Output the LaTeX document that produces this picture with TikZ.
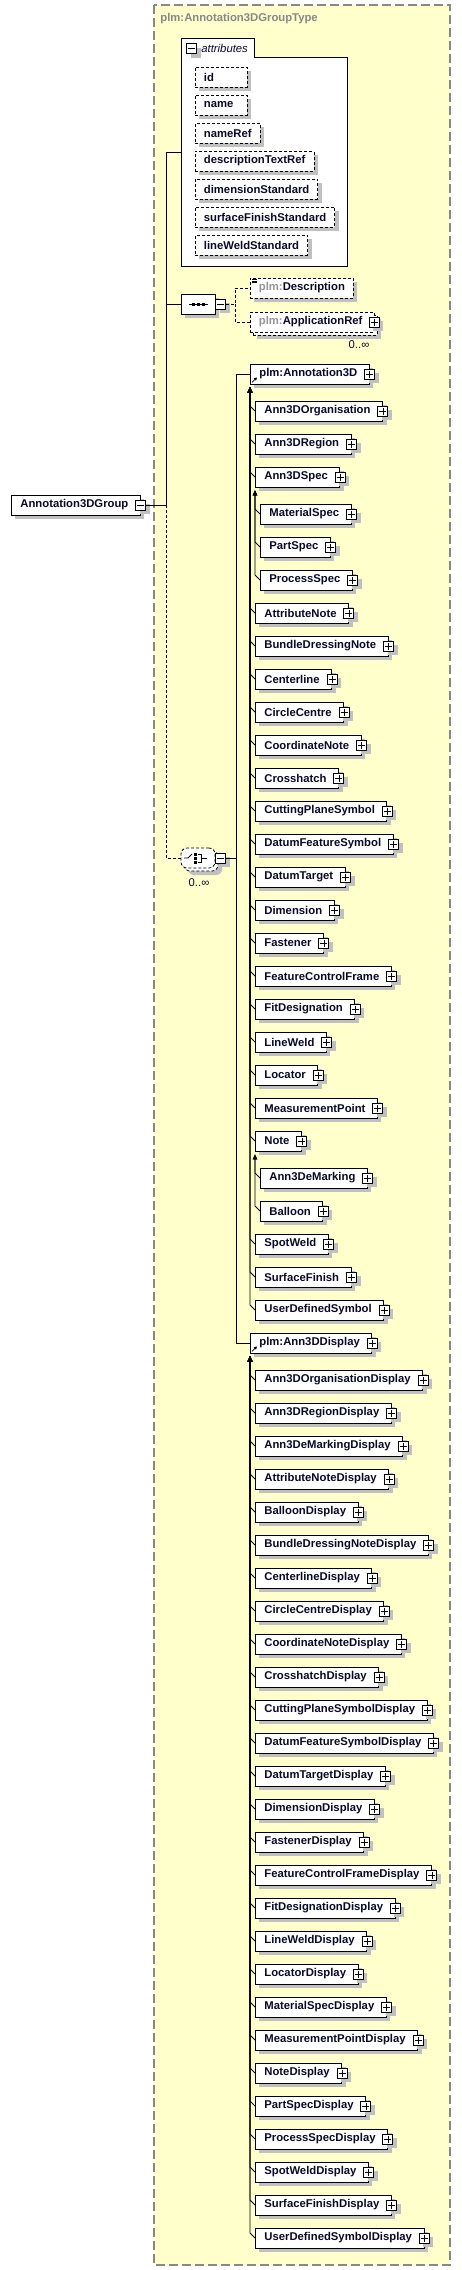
\documentclass[tikz,border=0pt]{standalone}
\usepackage{fontspec}
\setmainfont{Liberation Sans}
\usetikzlibrary{trees,shadows,shapes.misc,arrows.meta}

\definecolor{schemabg}{RGB}{255,255,204}
\definecolor{framegray}{RGB}{136,136,136}
\definecolor{prefixgray}{RGB}{150,150,150}
\definecolor{shade}{RGB}{192,192,192}
\definecolor{ink}{RGB}{10,10,40}

\newcommand{\boxfont}{\fontsize{11.3}{13}\selectfont}

\tikzstyle{boxshadow}=[drop shadow={shadow xshift=4pt,shadow yshift=-4pt,fill=shade,draw=none,opacity=1}]
\tikzstyle{stacked}=[drop shadow={shadow xshift=7pt,shadow yshift=-7pt,fill=shade,draw=none,opacity=1},
  copy shadow={shadow xshift=3pt,shadow yshift=-3pt,draw=black,fill=white,dash pattern=on 3pt off 2pt}]
\tikzstyle{optline}=[dash pattern=on 3pt off 2pt]
\tikzstyle{pbox}=[draw=black,line width=1pt,fill=white,minimum size=10pt,inner sep=0pt,boxshadow,
  path picture={\draw[line width=0.8pt]
    ([xshift=-3.5pt]path picture bounding box.center) -- ([xshift=3.5pt]path picture bounding box.center)
    ([yshift=-3.5pt]path picture bounding box.center) -- ([yshift=3.5pt]path picture bounding box.center);}]
\tikzstyle{mbox}=[draw=black,line width=1pt,fill=white,minimum size=10pt,inner sep=0pt,boxshadow,
  path picture={\draw[line width=0.8pt]
    ([xshift=-3.5pt]path picture bounding box.center) -- ([xshift=3.5pt]path picture bounding box.center);}]
\tikzstyle{elembase}=[draw=black,line width=0.8pt,fill=white,text=ink,font=\boxfont\bfseries,
  minimum height=20pt,inner ysep=0pt,inner xsep=9pt,anchor=west,execute at end node={\hspace{3pt}}]
\tikzstyle{elem}=[elembase,boxshadow,label={[pbox,anchor=center]0:{}}]
\tikzstyle{optel}=[draw=black,optline,line width=0.8pt,fill=white,text=ink,font=\boxfont\bfseries,
  minimum height=20pt,inner ysep=0pt,inner xsep=8.5pt,anchor=west]
\tikzstyle{attr}=[optel,boxshadow]
\tikzstyle{shortattr}=[attr,text width=35pt]
\tikzstyle{seqshape}=[chamfered rectangle,chamfered rectangle xsep=5pt,chamfered rectangle ysep=5pt,
  draw=black,line width=0.8pt,fill=white,minimum width=34pt,minimum height=20pt,inner sep=0pt,boxshadow]
\tikzstyle{choiceshape}=[draw=black,optline,line width=0.8pt,fill=white,rounded corners=6pt,
  minimum width=34pt,minimum height=20pt,inner sep=0pt,stacked]
\tikzstyle{occurs}=[text=ink,font=\boxfont,inner sep=0pt]

\begin{document}
\begin{tikzpicture}[x=1pt,y=1pt,line width=0.8pt,
  growth parent anchor=west,
  grow via three points={one child at (5,-37) and two children at (5,-37) and (5,-70)},
  edge from parent path={([yshift=-3pt]\tikzparentnode.south west) --
    ([xshift=-5pt,yshift=5pt]\tikzchildnode.west) -- (\tikzchildnode.west)},
  edge from parent/.style={draw,line width=0.8pt,{Triangle[width=4.5pt,length=5pt]}-}]
  \useasboundingbox (0,0) rectangle (461,-2270);

  % complex type frame
  \draw[framegray,line width=1.3pt,dash pattern=on 9pt off 4pt,fill=schemabg] (154,-5) rectangle (450,-2265);
  \node[anchor=west,inner sep=0pt,text=framegray,font=\boxfont\bfseries] (typename) at (160,-19) {plm:Annotation3DGroupType};

  % attributes
  \draw[fill=white] (181,-38) -- (254,-38) -- (254,-57) -- (347,-57) -- (347,-266) -- (181,-266) -- cycle;
  \node[mbox] (attrpm) at (191.5,-48.5) {};
  \node[anchor=west,inner sep=0pt,text=ink,font=\boxfont\itshape] (attrtitle) at (201,-48) {attributes};
  \node[shortattr] (id) at (195,-77) {id};
  \node[shortattr] (name) at (195,-105) {name};
  \node[attr] (nameref) at (195,-133) {nameRef};
  \node[attr] (desctext) at (195,-161) {descriptionTextRef};
  \node[attr] (dimstd) at (195,-189) {dimensionStandard};
  \node[attr] (surfstd) at (195,-217) {surfaceFinishStandard};
  \node[attr] (weldstd) at (195,-245) {lineWeldStandard};
  \coordinate (attrs) at (181,-152);

  % group and its content model
  \node[elembase,boxshadow,label={[mbox,anchor=center,name=rootpm]0:{}}] (root) at (11,-505) {Annotation3DGroup};
  \coordinate (spine) at (166,-505);

  \node[seqshape] (seq) at (198,-304) {};
  \node[mbox,anchor=west] (seqpm) at (seq.east) {};
  \draw ([xshift=-9pt]seq.center) -- ([xshift=10pt]seq.center);
  \foreach \dx in {-5,0,5}
    \fill ([xshift=\dx pt-1.5pt,yshift=-1.5pt]seq.center) rectangle +(3,3);

  \node[optel,boxshadow] (desc) at (250,-288) {\textcolor{prefixgray}{plm:}Description};
  \foreach \dy in {2,3.5,5}
    \draw[line width=0.5pt] ([xshift=2pt,yshift=-\dy pt]desc.north west) -- ++(5,0);
  \node[optel,stacked,label={[pbox,anchor=center]0:{}},execute at end node={\hspace{3pt}}] (appref) at (250,-322) {\textcolor{prefixgray}{plm:}ApplicationRef};
  \node[occurs] (apprefocc) at (359,-345) {0..∞};
  \coordinate (seqfork) at ([xshift=8.5pt]seqpm.east);

  \node[choiceshape] (choice) at (198,-858) {};
  \node[mbox,anchor=west] (choicepm) at (choice.east) {};
  \node[occurs] (choiceocc) at (199,-883) {0..∞};
  \draw ([xshift=-14pt]choice.center) -- ([xshift=-10pt]choice.center) -- ([xshift=-6pt,yshift=4pt]choice.center);
  \foreach \dy in {-4,0,4}
    \fill ([xshift=-4.5pt,yshift=\dy pt-1.5pt]choice.center) rectangle +(3,3);
  \draw ([xshift=0pt,yshift=4pt]choice.center) -| ([xshift=3pt,yshift=-4pt]choice.center) -- ([xshift=0pt,yshift=-4pt]choice.center);
  \draw ([xshift=3pt]choice.center) -- ([xshift=9pt]choice.center);
  \coordinate (chfork) at (236,-858);

  % connectors of the group
  \draw (rootpm.east) -- (spine) |- (attrs);
  \draw (seq.west) -- (seq.west -| spine);
  \draw[optline] (spine) |- (choice.west);
  \draw[optline] (seqpm.east) -- (seqfork) |- (desc.west);
  \draw[optline] (seqfork) |- (appref.west);

  % substitution group of plm:Annotation3D
  \node[elem] (a3d) at (250,-374) {plm:Annotation3D}
    child { node[elem] {Ann3DOrganisation} }
    child { node[elem] {Ann3DRegion} }
    child { node[elem] {Ann3DSpec}
      child { node[elem] {MaterialSpec} }
      child { node[elem] {PartSpec} }
      child { node[elem] {ProcessSpec} }
    }
    child [missing] {}
    child [missing] {}
    child [missing] {}
    child [yshift=-4pt] { node[elem] {AttributeNote} }
    child [yshift=-4pt] { node[elem] {BundleDressingNote} }
    child [yshift=-4pt] { node[elem] {Centerline} }
    child [yshift=-4pt] { node[elem] {CircleCentre} }
    child [yshift=-4pt] { node[elem] {CoordinateNote} }
    child [yshift=-4pt] { node[elem] {Crosshatch} }
    child [yshift=-4pt] { node[elem] {CuttingPlaneSymbol} }
    child [yshift=-4pt] { node[elem] {DatumFeatureSymbol} }
    child [yshift=-4pt] { node[elem] {DatumTarget} }
    child [yshift=-4pt] { node[elem] {Dimension} }
    child [yshift=-4pt] { node[elem] {Fastener} }
    child [yshift=-4pt] { node[elem] {FeatureControlFrame} }
    child [yshift=-4pt] { node[elem] {FitDesignation} }
    child [yshift=-4pt] { node[elem] {LineWeld} }
    child [yshift=-4pt] { node[elem] {Locator} }
    child [yshift=-4pt] { node[elem] {MeasurementPoint} }
    child [yshift=-4pt] { node[elem] {Note}
      child { node[elem] {Ann3DeMarking} }
      child { node[elem] {Balloon} }
    }
    child [missing] {}
    child [missing] {}
    child [yshift=-8pt] { node[elem] {SpotWeld} }
    child [yshift=-8pt] { node[elem] {SurfaceFinish} }
    child [yshift=-8pt] { node[elem] {UserDefinedSymbol} };
  \draw[-{Triangle[length=3pt,width=3pt]}] ([xshift=2pt,yshift=2pt]a3d.south west) -- ++(5,5);

  % substitution group of plm:Ann3DDisplay
  \node[elem] (a3dd) at (250,-1343) {plm:Ann3DDisplay}
    child { node[elem] {Ann3DOrganisationDisplay} }
    child { node[elem] {Ann3DRegionDisplay} }
    child { node[elem] {Ann3DeMarkingDisplay} }
    child { node[elem] {AttributeNoteDisplay} }
    child { node[elem] {BalloonDisplay} }
    child { node[elem] {BundleDressingNoteDisplay} }
    child { node[elem] {CenterlineDisplay} }
    child { node[elem] {CircleCentreDisplay} }
    child { node[elem] {CoordinateNoteDisplay} }
    child { node[elem] {CrosshatchDisplay} }
    child { node[elem] {CuttingPlaneSymbolDisplay} }
    child { node[elem] {DatumFeatureSymbolDisplay} }
    child { node[elem] {DatumTargetDisplay} }
    child { node[elem] {DimensionDisplay} }
    child { node[elem] {FastenerDisplay} }
    child { node[elem] {FeatureControlFrameDisplay} }
    child { node[elem] {FitDesignationDisplay} }
    child { node[elem] {LineWeldDisplay} }
    child { node[elem] {LocatorDisplay} }
    child { node[elem] {MaterialSpecDisplay} }
    child { node[elem] {MeasurementPointDisplay} }
    child { node[elem] {NoteDisplay} }
    child { node[elem] {PartSpecDisplay} }
    child { node[elem] {ProcessSpecDisplay} }
    child { node[elem] {SpotWeldDisplay} }
    child { node[elem] {SurfaceFinishDisplay} }
    child { node[elem] {UserDefinedSymbolDisplay} };
  \draw[-{Triangle[length=3pt,width=3pt]}] ([xshift=2pt,yshift=2pt]a3dd.south west) -- ++(5,5);

  % choice branches
  \draw (a3d.west) -| (chfork);
  \draw (choicepm.east) -- (chfork) |- (a3dd.west);
\end{tikzpicture}
\end{document}
